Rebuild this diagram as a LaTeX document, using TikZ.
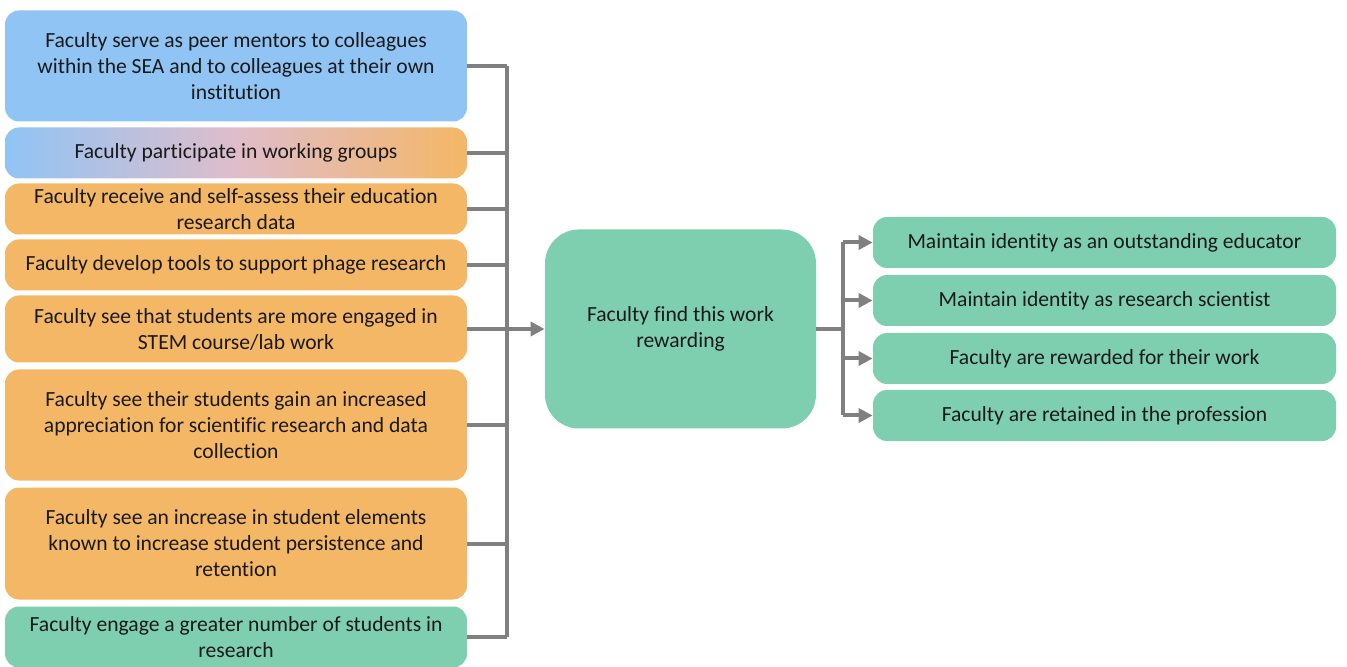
\documentclass[tikz,border=0pt]{standalone}
\usepackage{fontspec}
\setmainfont{Carlito}[Ligatures={NoCommon,NoContextual,NoRare}, Contextuals=NoAlternate]
\usepackage{tikz}
\usetikzlibrary{arrows.meta,positioning,calc}
\definecolor{seablue}{HTML}{90C4F4}
\definecolor{seaorange}{HTML}{F4B766}
\definecolor{seagreen}{HTML}{7ECFB0}
\definecolor{seapink}{HTML}{DFBDCB}
\definecolor{seagray}{HTML}{808080}
\definecolor{seaink}{HTML}{1A1A1A}
\tikzset{
  box/.style={rounded corners=7pt, align=center, text=seaink, inner sep=2pt,
              font=\fontsize{10.8}{13}\selectfont},
  activity/.style={box, minimum width=231pt},
  mentor/.style={activity, fill=seablue},
  mixed/.style={activity, left color=seablue, right color=seaorange, middle color=seapink},
  student/.style={activity, fill=seaorange},
  engage/.style={activity, fill=seagreen},
  outcome/.style={box, fill=seagreen, minimum width=231.5pt, minimum height=25.5pt},
  link/.style={draw=seagray, line width=2pt},
  flow/.style={-{Triangle[length=7pt, width=7pt]}, draw=seagray, line width=2pt},
}

\begin{document}
\begin{tikzpicture}[x=0.5pt, y=-0.5pt]
  \useasboundingbox (0,0) rectangle (1347,667);

  % what faculty do
  \node[mentor, minimum height=55.5pt] (m1) at (236,66)
    {Faculty serve as peer mentors to colleagues\\within the SEA and to colleagues at their own\\institution};
  \node[mixed, minimum height=25.5pt] (m2) at (236,153) {Faculty participate in working groups};
  \node[student, minimum height=25.5pt] (m3) at (236,209)
    {Faculty receive and self-assess their education\\research data};
  \node[student, minimum height=25.5pt] (m4) at (236,265) {Faculty develop tools to support phage research};
  \node[student, minimum height=33.5pt] (m5) at (236,329)
    {Faculty see that students are more engaged in\\STEM course/lab work};
  \node[student, minimum height=55.5pt] (m6) at (236,425)
    {Faculty see their students gain an increased\\appreciation for scientific research and data\\collection};
  \node[student, minimum height=56pt] (m7) at (236,543.5)
    {Faculty see an increase in student elements\\known to increase student persistence and\\retention};
  \node[engage, minimum height=30.5pt] (m8) at (236,637)
    {Faculty engage a greater number of students in\\research};

  % hub
  \node[box, fill=seagreen, rounded corners=17pt, minimum width=135.5pt, minimum height=99.5pt]
    (hub) at (680.5,329) {Faculty find this work\\rewarding};

  % outcomes
  \node[outcome] (r1) at (1104.5,242.5) {Maintain identity as an outstanding educator};
  \node[outcome] (r2) at (1104.5,300.5) {Maintain identity as research scientist};
  \node[outcome] (r3) at (1104.5,358.5) {Faculty are rewarded for their work};
  \node[outcome] (r4) at (1104.5,415.5) {Faculty are retained in the profession};

  \coordinate (bus) at (507,0);
  \coordinate (split) at (843,0);

  \draw[link] (m1.east) -- (m1.east -| bus);
  \draw[link] (m2.east) -- (m2.east -| bus);
  \draw[link] (m3.east) -- (m3.east -| bus);
  \draw[link] (m4.east) -- (m4.east -| bus);
  \draw[link] (m5.east) -- (m5.east -| bus);
  \draw[link] (m6.east) -- (m6.east -| bus);
  \draw[link] (m7.east) -- (m7.east -| bus);
  \draw[link] (m8.east) -- (m8.east -| bus);
  \draw[link] (m1.east -| bus) -- (m8.east -| bus);
  \draw[flow] (m5.east -| bus) -- (hub.west);

  \draw[link] (hub.east) -- (hub.east -| split);
  \draw[link] (r1.west -| split) -- (r4.west -| split);
  \foreach \r in {r1,r2,r3,r4}
    \draw[flow] (\r.west -| split) -- (\r.west);
\end{tikzpicture}
\end{document}
